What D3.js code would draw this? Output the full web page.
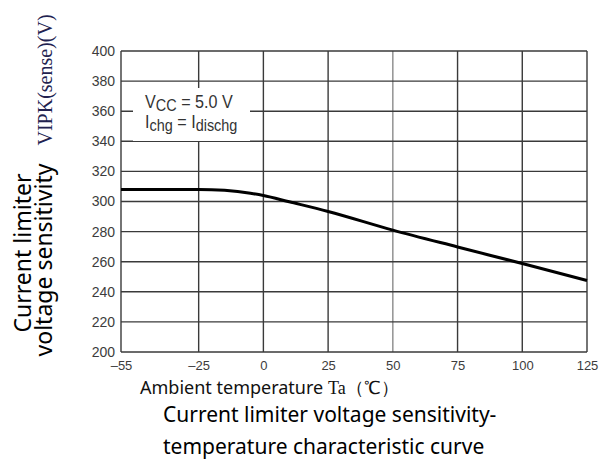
<!DOCTYPE html>
<html>
<head>
<meta charset="utf-8">
<script src="https://cdn.jsdelivr.net/npm/d3@7"></script>
<style>
  body { margin: 0; background: #fff; }
  svg { display: block; }
</style>
</head>
<body>
<svg></svg>
<script>
// chart data
let temps = [-55, -40, -25, -15, -5, 0, 10, 25, 50, 75, 100, 125]
let volts = [308, 308, 308, 307.4, 305.5, 304, 299.8, 293.4, 281, 269.8, 258.8, 247.5]

let xTicks = [-55, -25, 0, 25, 50, 75, 100, 125]
let yTicks = [200, 220, 240, 260, 280, 300, 320, 340, 360, 380, 400]

// canvas
let width = 600
let height = 462
let plotLeft = 121, plotRight = 587, plotTop = 51, plotBottom = 352

let svg = d3.select('svg')
    .attr('width', width)
    .attr('height', height)

let xScale = d3.scaleLinear()
    .domain([-55, 125])
    .range([plotLeft, plotRight])

let yScale = d3.scaleLinear()
    .domain([200, 400])
    .range([plotBottom, plotTop])

// grid
let grid = svg.append('g')
grid.selectAll('.vline')
    .data(xTicks)
    .enter()
    .append('line')
    .attr('x1', d => xScale(d))
    .attr('x2', d => xScale(d))
    .attr('y1', plotTop)
    .attr('y2', plotBottom)
    .attr('stroke', d => d === 50 ? '#8a8a8a' : '#3a3a3a')
    .attr('stroke-width', 1.4)

grid.selectAll('.hline')
    .data(yTicks)
    .enter()
    .append('line')
    .attr('x1', plotLeft)
    .attr('x2', plotRight)
    .attr('y1', d => yScale(d))
    .attr('y2', d => yScale(d))
    .attr('stroke', '#3a3a3a')
    .attr('stroke-width', 1.4)

// axes (labels only, the grid draws the frame)
let xAxis = d3.axisBottom(xScale).tickValues(xTicks).tickSize(0).tickPadding(9)
    .tickFormat(d => d < 0 ? '\u2013' + Math.abs(d) : d)
let yAxis = d3.axisLeft(yScale).tickValues(yTicks).tickSize(0).tickPadding(6)

svg.append('g')
    .attr('transform', 'translate(0,' + plotBottom + ')')
    .call(xAxis)
    .call(g => g.select('.domain').remove())
    .selectAll('text')
    .attr('font-family', 'Liberation Sans, Arial, sans-serif')
    .attr('font-size', 13)
    .attr('fill', '#3c3c3c')

svg.append('g')
    .attr('transform', 'translate(' + plotLeft + ',0)')
    .call(yAxis)
    .call(g => g.select('.domain').remove())
    .selectAll('text')
    .attr('font-family', 'Liberation Sans, Arial, sans-serif')
    .attr('font-size', 14)
    .attr('fill', '#3c3c3c')

// curve
let line = d3.line()
    .x((d, i) => xScale(temps[i]))
    .y(d => yScale(d))
    .curve(d3.curveMonotoneX)

svg.append('path')
    .datum(volts)
    .attr('d', line)
    .attr('fill', 'none')
    .attr('stroke', '#000')
    .attr('stroke-width', 3)

// condition box
svg.append('rect')
    .attr('x', 133).attr('y', 88)
    .attr('width', 117).attr('height', 53)
    .attr('fill', '#fff')

let note = svg.append('g')
    .attr('transform', 'translate(145,0) scale(0.85,1)')
    .attr('font-family', 'Liberation Sans, Arial, sans-serif')
    .attr('fill', '#333')
let n1 = note.append('text').attr('x', 0).attr('y', 108).attr('font-size', 19)
n1.append('tspan').text('V')
n1.append('tspan').text('CC').attr('font-size', 17).attr('dy', 3)
n1.append('tspan').text(' = 5.0 V').attr('dy', -3)
let n2 = note.append('text').attr('x', 0).attr('y', 128).attr('font-size', 19)
n2.append('tspan').text('I')
n2.append('tspan').text('chg').attr('font-size', 17).attr('dy', 3)
n2.append('tspan').text(' = I').attr('dy', -3)
n2.append('tspan').text('dischg').attr('font-size', 17).attr('dy', 3)

// left labels
svg.append('text')
    .attr('transform', 'translate(52,80) rotate(-90)')
    .attr('text-anchor', 'middle')
    .attr('font-family', 'Liberation Serif, Times New Roman, serif')
    .attr('font-size', 20)
    .attr('fill', '#222250')
    .text('VIPK(sense)(V)')

svg.append('text')
    .attr('transform', 'translate(31,253) rotate(-90)')
    .attr('text-anchor', 'middle')
    .attr('font-family', 'Noto Sans, Open Sans, sans-serif')
    .attr('font-size', 23)
    .attr('fill', '#000')
    .text('Current limiter')

svg.append('text')
    .attr('transform', 'translate(52,260) rotate(-90)')
    .attr('text-anchor', 'middle')
    .attr('font-family', 'Noto Sans, Open Sans, sans-serif')
    .attr('font-size', 23)
    .attr('fill', '#000')
    .text('voltage sensitivity')

// x axis title
let xt = svg.append('text')
    .attr('x', 140).attr('y', 394)
    .attr('font-family', 'Noto Sans, Open Sans, sans-serif')
    .attr('font-size', 18)
    .attr('fill', '#111')
xt.append('tspan').text('Ambient temperature ')
xt.append('tspan').text('Ta（℃）')
    .attr('font-family', 'Liberation Serif, Times New Roman, serif')
    .attr('font-size', 18)

// caption
svg.append('text')
    .attr('x', 163).attr('y', 422)
    .attr('font-family', 'Noto Sans, Open Sans, sans-serif')
    .attr('font-size', 21)
    .attr('fill', '#000')
    .text('Current limiter voltage sensitivity-')

svg.append('text')
    .attr('x', 163).attr('y', 454)
    .attr('font-family', 'Noto Sans, Open Sans, sans-serif')
    .attr('font-size', 21)
    .attr('fill', '#000')
    .text('temperature characteristic curve')
</script>
</body>
</html>
